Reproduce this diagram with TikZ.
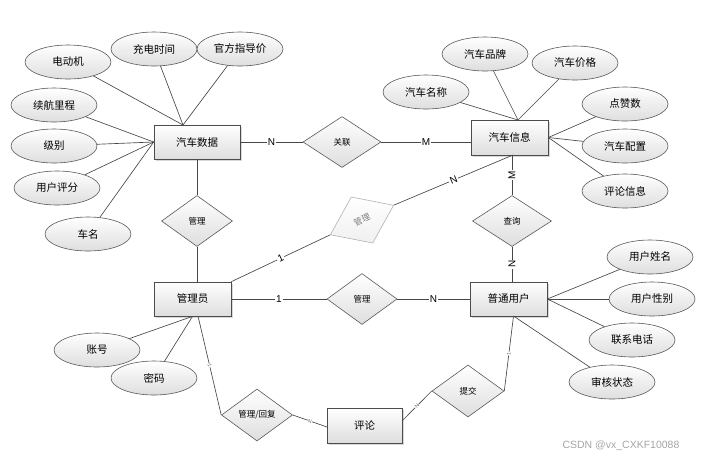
\documentclass[tikz,border=0pt]{standalone}
\usepackage{fontspec}
\setmainfont{Liberation Sans}
\newfontfamily\cjk{Noto Sans CJK SC}
\usetikzlibrary{shapes.geometric,calc,shadows}
\tikzset{
  attr/.style={ellipse, draw=black!65, line width=0.6pt, top color=white, bottom color=black!13,
    minimum width=86pt, minimum height=34pt, inner sep=0pt, font=\cjk\fontsize{10.5}{12}\selectfont},
  ent/.style={rectangle, draw=black!70, line width=0.7pt, top color=white, bottom color=black!13,
    minimum width=77pt, minimum height=34pt, inner sep=0pt, font=\cjk\fontsize{10.5}{12}\selectfont,
    drop shadow={shadow xshift=1.5pt, shadow yshift=-1.5pt, fill=black!30}},
  rel/.style={diamond, draw=black!65, line width=0.6pt, top color=white, bottom color=black!13,
    minimum width=71pt, minimum height=51pt, inner sep=0pt, font=\cjk\fontsize{8.5}{10}\selectfont},
  conn/.style={draw=black!72, line width=0.65pt},
  lab/.style={fill=white, inner sep=1pt, font=\fontsize{10}{12}\selectfont},
  tlab/.style={fill=white, inner sep=0.4pt, font=\fontsize{5}{6}\selectfont, text=black!60, sloped},
}
\begin{document}
\begin{tikzpicture}[x=1pt,y=-1pt]
\useasboundingbox (0,0) rectangle (704,459);
\fill[white] (0,0) rectangle (704,459);

% entities
\node[ent, minimum width=86pt] (sj) at (197,142) {汽车数据};
\node[ent, minimum height=35pt] (xx) at (509.5,137.5) {汽车信息};
\node[ent] (gly) at (192.5,299) {管理员};
\node[ent] (pt) at (508.5,299) {普通用户};
\node[ent, minimum width=75pt, minimum height=35pt] (pl) at (364.5,425.5) {评论};

% attributes
\node[attr] (a1) at (68,62) {电动机};
\node[attr] (a2) at (154,49) {充电时间};
\node[attr] (a3) at (240,49) {官方指导价};
\node[attr] (a4) at (54,105) {续航里程};
\node[attr] (a5) at (54,146) {级别};
\node[attr] (a6) at (57,188) {用户评分};
\node[attr] (a7) at (88,234) {车名};
\node[attr] (b1) at (426,92) {汽车名称};
\node[attr] (b2) at (485,54) {汽车品牌};
\node[attr] (b3) at (575,63) {汽车价格};
\node[attr] (b4) at (625,104) {点赞数};
\node[attr] (b5) at (625,146) {汽车配置};
\node[attr] (b6) at (625,191) {评论信息};
\node[attr] (c1) at (97,350) {账号};
\node[attr] (c2) at (154,378) {密码};
\node[attr] (d1) at (650,257) {用户姓名};
\node[attr] (d2) at (652,299) {用户性别};
\node[attr] (d3) at (632,340) {联系电话};
\node[attr] (d4) at (612,382) {审核状态};

% relationships
\node[rel] (r1) at (197,221) {管理};
\node[rel, minimum width=78pt] (r2) at (342,142) {关联};
\node[rel, minimum width=79pt] (r3) at (512,221) {查询};
\node[rel, minimum width=70pt] (r4) at (362,299) {管理};
\node[rel, rotate=25, draw=black!30, text=black!50, bottom color=black!6, minimum width=70pt] (r5) at (362,220) {管理};
\node[rel, minimum height=52pt] (r6) at (257,415) {管理/回复};
\node[rel, minimum width=72pt, minimum height=52pt] (r7) at (468,391) {提交};

% convergence points
\coordinate (sjtop) at (183,125);
\coordinate (xxtop) at (518,120);
\coordinate (xxbot) at (512,155);
\coordinate (xxbot2) at (513,155);
\coordinate (ptbot) at (513.5,316);
\coordinate (glybot) at (198,316);
\coordinate (plw) at (327,427);
\coordinate (ple) at (402,421);

% attribute lines
\foreach \a in {a1,a2,a3} \draw[conn] (\a) -- (sjtop);
\foreach \a in {a4,a5,a6,a7} \draw[conn] (\a) -- (sj.west);
\foreach \a in {b1,b2,b3} \draw[conn] (\a) -- (xxtop);
\foreach \a in {b4,b5,b6} \draw[conn] (\a) -- (xx.east);
\foreach \a in {c1,c2} \draw[conn] (\a) -- (gly.south);
\foreach \a in {d1,d2,d3} \draw[conn] (\a) -- (pt.east);
\draw[conn] (d4) -- (ptbot);

% relationship lines
\draw[conn] (sj.east) -- node[lab] {N} (r2.west);
\draw[conn] (r2.east) -- node[lab] {M} (r2.east -| xx.west);
\draw[conn] (xxbot) -- node[lab, rotate=90] {M} (r3.north);
\draw[conn] (r3.south) -- node[lab, rotate=90] {N} (r3.south |- pt.north);
\draw[conn] (sj.south) -- (r1.north);
\draw[conn] (r1.south) -- (r1.south |- gly.north);
\draw[conn] (gly.east) -- node[lab] {1} (r4.west);
\draw[conn] (r4.east) -- node[lab] {N} (pt.west);
\draw[conn] (gly.north east) -- node[lab, sloped] {1} (r5.west);
\draw[conn] (r5.east) -- node[lab, sloped] {N} (xxbot2);
\draw[conn] (glybot) -- node[tlab] {1} (r6.west);
\draw[conn] (r6.east) -- node[tlab] {N} (plw);
\draw[conn] (ple) -- node[tlab] {N} (r7.west);
\draw[conn] (r7.east) -- node[tlab] {1} (ptbot);

% watermark
\node[text=black!35, font=\fontsize{10.5}{12}\selectfont, inner sep=0pt] (wm) at (621,446) {CSDN @vx\_CXKF10088};
\end{tikzpicture}
\end{document}
